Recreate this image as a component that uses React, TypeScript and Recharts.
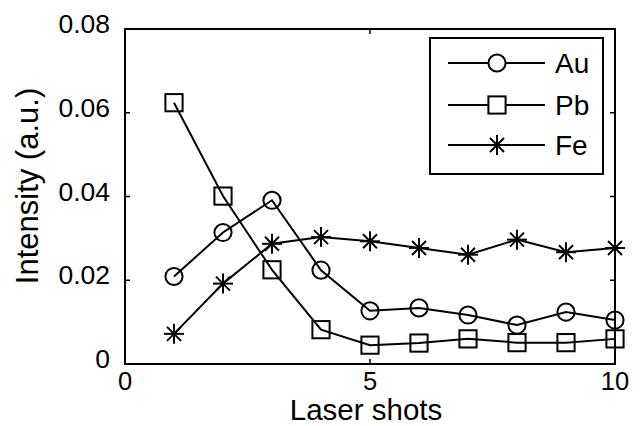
import { LineChart, Line, XAxis, YAxis, ReferenceArea, Legend } from 'recharts'

const shots = [1, 2, 3, 4, 5, 6, 7, 8, 9, 10]
const au = [0.0209, 0.0314, 0.0391, 0.0224, 0.0127, 0.0134, 0.0117, 0.0093, 0.0124, 0.0105]
const pb = [0.0624, 0.0401, 0.0225, 0.0082, 0.0045, 0.005, 0.006, 0.0051, 0.0051, 0.006]
const fe = [0.0072, 0.0192, 0.0287, 0.0303, 0.0293, 0.0277, 0.0261, 0.0297, 0.0267, 0.0277]
const xTicks = [0, 5, 10]
const yTicks = [0, 0.02, 0.04, 0.06, 0.08]

const data = shots.map((s, i) => ({ shot: s, Au: au[i], Pb: pb[i], Fe: fe[i] }))

const W = 640
const H = 426
const PLOT = { left: 125, right: 615, top: 29, bottom: 364 }
const FONT = '"Liberation Sans", Arial, Helvetica, sans-serif'
const INK = '#000'
const TICK_LEN = 5
const SW = 2

const fmtY = (v: number) => (v === 0 ? '0' : v.toFixed(2))

// markers
const circle = (cx: number, cy: number, key?: string, fill = 'none') =>
  <circle key={key} cx={cx} cy={cy} r={8.6} fill={fill} stroke={INK} strokeWidth={SW} />
const square = (cx: number, cy: number, key?: string, fill = 'none') =>
  <rect key={key} x={cx - 8.6} y={cy - 8.6} width={17.2} height={17.2} fill={fill} stroke={INK} strokeWidth={SW} />
const star = (cx: number, cy: number, key?: string) => (
  <g key={key} stroke={INK} strokeWidth={SW}>
    <line x1={cx} y1={cy - 10} x2={cx} y2={cy + 10} />
    <line x1={cx - 10} y1={cy} x2={cx + 10} y2={cy} />
    <line x1={cx - 7} y1={cy - 7} x2={cx + 7} y2={cy + 7} />
    <line x1={cx - 7} y1={cy + 7} x2={cx + 7} y2={cy - 7} />
  </g>
)

const series = [
  { key: 'Au', marker: 'circle' },
  { key: 'Pb', marker: 'square' },
  { key: 'Fe', marker: 'star' },
]

function drawMarker(kind: string, cx: number, cy: number, key?: string, fill?: string) {
  if (kind === 'circle') return circle(cx, cy, key, fill)
  if (kind === 'square') return square(cx, cy, key, fill)
  return star(cx, cy, key)
}

function YTick(props: any) {
  const { y, payload } = props
  return (
    <g>
      <text x={PLOT.left - 15} y={y + 4} textAnchor="end" fontSize={26.5} fontFamily={FONT} fill={INK}>
        {fmtY(payload.value)}
      </text>
      <line x1={PLOT.left} x2={PLOT.left + TICK_LEN} y1={y} y2={y} stroke={INK} strokeWidth={1.5} />
      <line x1={PLOT.right - TICK_LEN} x2={PLOT.right} y1={y} y2={y} stroke={INK} strokeWidth={1.5} />
    </g>
  )
}

function XTick(props: any) {
  const { x, payload } = props
  return (
    <g>
      <text x={x} y={390} textAnchor="middle" fontSize={25.5} fontFamily={FONT} fill={INK}>
        {payload.value}
      </text>
      <line x1={x} x2={x} y1={PLOT.bottom - TICK_LEN} y2={PLOT.bottom} stroke={INK} strokeWidth={1.5} />
      <line x1={x} x2={x} y1={PLOT.top} y2={PLOT.top + TICK_LEN} stroke={INK} strokeWidth={1.5} />
    </g>
  )
}

const XTitle = () => (
  <text x={366} y={419.5} textAnchor="middle" fontSize={29.5} fontFamily={FONT} fill={INK}>
    Laser shots
  </text>
)

const YTitle = () => (
  <text x={0} y={0} transform={`translate(38, 186) rotate(-90)`} textAnchor="middle" fontSize={31} fontFamily={FONT} fill={INK}>
    Intensity (a.u.)
  </text>
)

function LegendBox() {
  const rows = [26, 68, 108]
  return (
    <svg width={176} height={139} style={{ display: 'block' }}>
      <rect x={1} y={1} width={173} height={136} fill="#fff" stroke={INK} strokeWidth={2} />
      {series.map((s, i) => (
        <g key={s.key}>
          <line x1={19} x2={116} y1={rows[i]} y2={rows[i]} stroke={INK} strokeWidth={SW} />
          {drawMarker(s.marker, 68, rows[i], undefined, '#fff')}
          <text x={126} y={rows[i] + 10} fontSize={28} fontFamily={FONT} fill={INK}>{s.key}</text>
        </g>
      ))}
    </svg>
  )
}

export default function App() {
  return (
    <div style={{ position: 'absolute', left: 0, top: 0, width: W, height: H, background: '#fff' }}>
      <LineChart width={W} height={H} data={data} margin={{ top: PLOT.top, right: W - PLOT.right, bottom: 0, left: 0 }}>
        <ReferenceArea x1={0} x2={10} y1={0} y2={0.08} fill="none" stroke={INK} strokeWidth={2} />
        <XAxis
          dataKey="shot" type="number" domain={[0, 10]} ticks={xTicks}
          height={H - PLOT.bottom} tickSize={0} tick={<XTick />}
          axisLine={{ stroke: INK, strokeWidth: 2 }} label={<XTitle />}
        />
        <YAxis
          type="number" domain={[0, 0.08]} ticks={yTicks} width={PLOT.left}
          tickSize={0} tick={<YTick />} axisLine={{ stroke: INK, strokeWidth: 2 }}
          label={<YTitle />}
        />
        {series.map(s => (
          <Line
            key={s.key} dataKey={s.key} stroke={INK} strokeWidth={SW}
            isAnimationActive={false}
            dot={(p: any) => drawMarker(s.marker, p.cx, p.cy, `${s.key}-${p.index}`)}
          />
        ))}
        <Legend
          layout="vertical" align="center" verticalAlign="middle"
          wrapperStyle={{ left: 429, top: 37, width: 176, height: 139 }}
          content={() => <LegendBox />}
        />
      </LineChart>
    </div>
  )
}
